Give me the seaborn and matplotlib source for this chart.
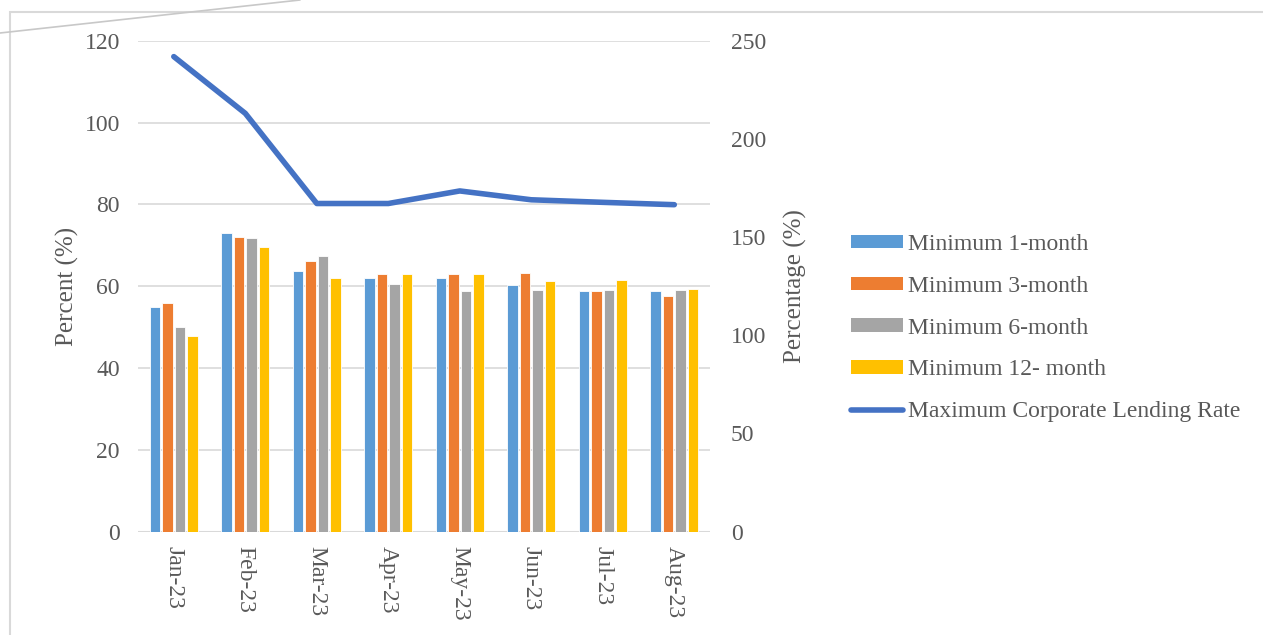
import numpy as np
import pandas as pd
import seaborn as sns
import matplotlib.pyplot as plt
from matplotlib.patches import Rectangle
from matplotlib.lines import Line2D

# data
months = ['Jan-23', 'Feb-23', 'Mar-23', 'Apr-23', 'May-23', 'Jun-23', 'Jul-23', 'Aug-23']
min_1m = [55.0, 72.9, 63.8, 62.0, 62.0, 60.2, 58.9, 58.9]
min_3m = [55.9, 72.0, 66.1, 62.9, 62.9, 63.2, 58.9, 57.6]
min_6m = [50.0, 71.8, 67.3, 60.6, 58.8, 59.1, 59.1, 59.1]
min_12m = [47.8, 69.6, 62.1, 62.9, 62.9, 61.2, 61.5, 59.3]
max_lending = [241.9, 213.0, 167.1, 167.1, 173.5, 169.0, 167.7, 166.5]

series_names = ['Minimum 1-month', 'Minimum 3-month', 'Minimum 6-month', 'Minimum 12- month']
line_name = 'Maximum Corporate Lending Rate'
bar_colors = ['#5B9BD5', '#ED7D31', '#A5A5A5', '#FFC000']
line_color = '#4472C4'

# long-form table for seaborn
df = pd.DataFrame({
    'Month': months * 4,
    'Series': np.repeat(series_names, len(months)),
    'Value': min_1m + min_3m + min_6m + min_12m,
})

sns.set_style('white')
plt.rcParams['font.family'] = ['Liberation Serif', 'DejaVu Serif']
text_col = '#595959'
grid_col = '#D9D9D9'
fs = 17

fig = plt.figure(figsize=(12.63, 6.35), dpi=100)
ax = fig.add_axes([0.1093, 0.1627, 0.4529, 0.7732])

sns.barplot(data=df, x='Month', y='Value', hue='Series', order=months,
            hue_order=series_names, palette=bar_colors, saturation=1,
            width=0.7, gap=0.17, edgecolor='white', linewidth=0.6,
            ax=ax, legend=False)

ax.set_ylim(0, 120)
ax.set_yticks(range(0, 121, 20))
ax.set_xlim(-0.5, len(months) - 0.5)
ax.yaxis.grid(True, color=grid_col, linewidth=1.2)
ax.set_axisbelow(True)
for s in ax.spines.values():
    s.set_visible(False)
ax.axhline(0, color=grid_col, linewidth=1.5, zorder=0)
ax.set_xlabel('')
ax.set_ylabel('Percent (%)', fontsize=18, color=text_col, labelpad=4)
ax.tick_params(axis='y', labelsize=fs, labelcolor=text_col, length=0, pad=13)
ax.tick_params(axis='x', labelsize=fs, labelcolor=text_col, length=0, pad=10)
for lab in ax.get_xticklabels():
    lab.set_rotation(-90)

ax2 = ax.twinx()
sns.lineplot(x=np.arange(len(months)), y=max_lending, color=line_color,
             linewidth=4, ax=ax2, solid_capstyle='round', solid_joinstyle='round')
ax2.set_ylim(0, 250)
ax2.set_yticks(range(0, 251, 50))
for s in ax2.spines.values():
    s.set_visible(False)
ax2.set_ylabel('Percentage (%)', fontsize=18, color=text_col, labelpad=13)
ax2.tick_params(axis='y', labelsize=fs, labelcolor=text_col, length=0, pad=15)

# legend
handles = [Rectangle((0, 0), 1, 1, facecolor=c, edgecolor='none') for c in bar_colors]
handles.append(Line2D([0], [0], color=line_color, linewidth=4, solid_capstyle='round'))
fig.legend(handles, series_names + [line_name], loc='upper left',
           bbox_to_anchor=(0.657, 0.665), frameon=False, fontsize=fs,
           labelcolor=text_col, handlelength=2.2, handleheight=0.5,
           handletextpad=0.2, labelspacing=0.88)

# chart frame and decorative stroke
fig.add_artist(Rectangle((10 / 1263, -0.1), 1.2, 1 - 12 / 635 + 0.1,
                         transform=fig.transFigure, fill=False,
                         edgecolor=grid_col, linewidth=1.5))
fig.add_artist(Line2D([0, 300 / 1263], [1 - 33 / 635, 1.0],
                      transform=fig.transFigure, color='#C8C8C8', linewidth=1.2))

fig.savefig('out.png', dpi=100)
